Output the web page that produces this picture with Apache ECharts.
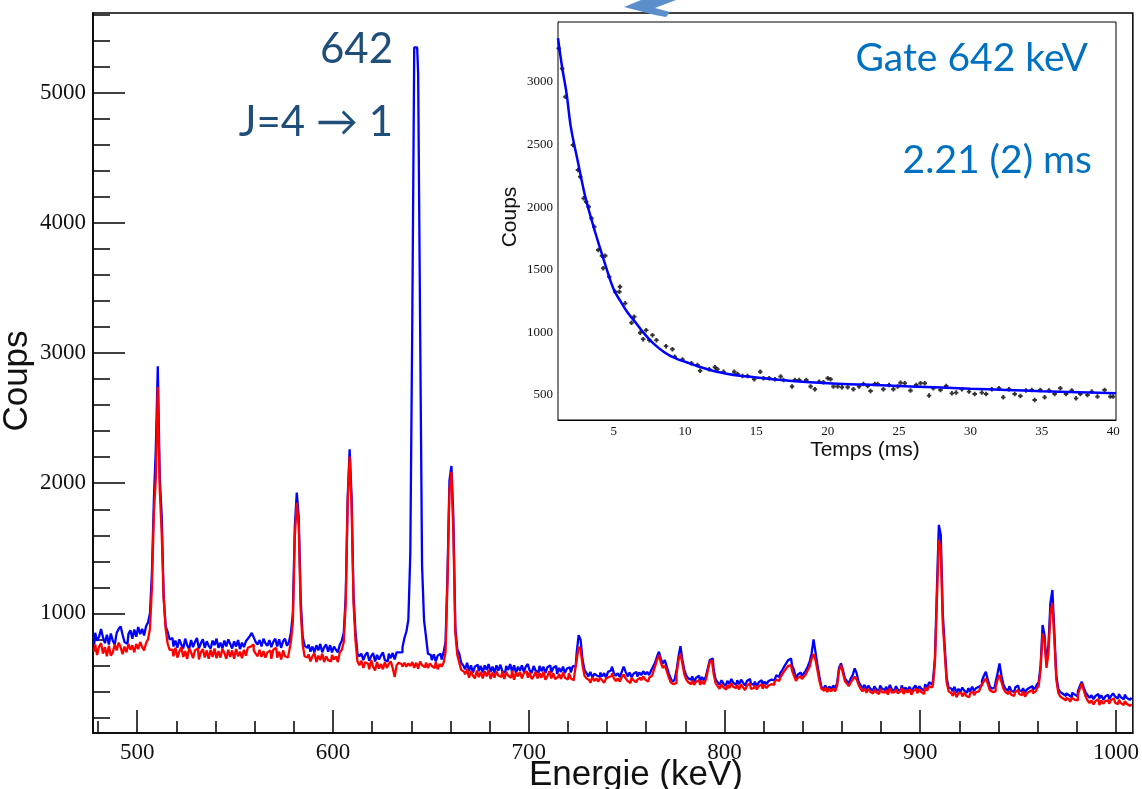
<!DOCTYPE html>
<html>
<head>
<meta charset="utf-8">
<title>Spectre gamma - Gate 642 keV</title>
<script src="https://cdn.jsdelivr.net/npm/echarts@6/dist/echarts.min.js"></script>
<style>
  html, body { margin: 0; padding: 0; background: #fff; }
  #chart { width: 1142px; height: 789px; }
</style>
</head>
<body>
<div id="chart"></div>
<script>
// ---- Energy spectrum: 1 keV bins, first bin centred on 478 keV ----
const binStart = 478;
const binWidth = 1;

// Spectrum in coincidence with the 642 keV gate (blue)
const countsGate = [
  760, 850, 790, 820, 880, 815, 770, 835, 760, 845,      // 478
  790, 760, 850, 880, 900, 835, 780, 765, 840, 870,      // 488
  805, 875, 820, 895, 840, 880, 830, 900, 930, 1000,     // 498
  1310, 1870, 2270, 2900, 2040, 1750, 1130, 900, 860, 800, // 508
  810, 745, 790, 735, 800, 760, 730, 805, 755, 725,      // 518
  795, 740, 780, 810, 730, 770, 800, 735, 785, 750,      // 528
  730, 790, 755, 805, 735, 775, 730, 790, 745, 800,      // 538
  765, 730, 785, 745, 795, 725, 775, 740, 785, 805,      // 548
  825, 850, 815, 780, 760, 795, 745, 805, 770, 750,      // 558
  795, 740, 780, 805, 745, 800, 735, 785, 805, 750,      // 568
  780, 850, 1000, 1667, 1928, 1744, 1103, 821, 750, 735, // 578
  760, 705, 745, 700, 755, 715, 765, 700, 740, 760,      // 588
  705, 755, 700, 745, 720, 700, 760, 790, 850, 1128,     // 598
  1884, 2261, 1897, 1128, 856, 690, 670, 690, 640, 680,  // 608
  700, 635, 670, 695, 630, 680, 645, 675, 700, 640,      // 618
  630, 690, 655, 695, 645, 700, 700, 700, 740, 810,      // 628
  860, 950, 1460, 3230, 5350, 5350, 5150, 3230, 1370, 950, // 638
  820, 690, 680, 640, 685, 630, 675, 690, 645, 700,      // 648
  780, 1300, 2022, 2133, 1733, 886, 725, 690, 620, 600,  // 658
  570, 620, 555, 600, 545, 590, 605, 555, 595, 545,      // 668
  600, 565, 610, 550, 590, 540, 600, 560, 605, 555,      // 678
  545, 595, 565, 610, 550, 600, 540, 590, 560, 600,      // 688
  550, 590, 610, 560, 540, 595, 560, 545, 595, 555,      // 698
  590, 540, 585, 600, 545, 580, 595, 535, 580, 550,      // 708
  590, 540, 575, 585, 545, 595, 590, 700, 833, 795,      // 718
  641, 564, 540, 515, 550, 505, 535, 520, 510, 545,      // 728
  515, 540, 505, 550, 560, 590, 540, 520, 540, 510,      // 738
  550, 590, 550, 515, 545, 510, 535, 550, 515, 545,      // 748
  525, 555, 530, 550, 525, 560, 590, 620, 666, 705,      // 758
  650, 615, 640, 590, 540, 500, 474, 490, 560, 666,      // 768
  748, 641, 564, 520, 500, 490, 515, 475, 505, 520,      // 778
  480, 510, 485, 515, 580, 641, 653, 564, 490, 470,      // 788
  450, 485, 460, 440, 480, 455, 495, 465, 450, 485,      // 798
  455, 490, 465, 445, 480, 495, 460, 450, 475, 440,      // 808
  470, 485, 450, 475, 455, 480, 490, 485, 500, 525,      // 818
  510, 540, 564, 590, 615, 640, 653, 600, 564, 500,      // 828
  530, 545, 520, 538, 560, 590, 628, 692, 800, 700,      // 838
  602, 513, 436, 420, 445, 410, 435, 420, 445, 425,      // 848
  462, 580, 615, 564, 500, 480, 462, 500, 525, 577,      // 858
  540, 474, 449, 425, 450, 415, 445, 420, 405, 440,      // 868
  415, 405, 445, 420, 410, 435, 405, 450, 415, 405,      // 878
  440, 415, 400, 445, 410, 430, 405, 435, 400, 425,      // 888
  445, 410, 440, 420, 405, 455, 425, 470, 455, 480,      // 898
  653, 1180, 1680, 1600, 1000, 744, 500, 430, 420, 400,  // 908
  435, 390, 420, 395, 430, 405, 390, 425, 400, 435,      // 918
  405, 425, 435, 450, 480, 520, 551, 490, 440, 420,      // 928
  430, 470, 540, 615, 520, 450, 420, 405, 440, 405,      // 938
  395, 430, 445, 410, 400, 425, 390, 415, 430, 440,      // 948
  415, 430, 450, 470, 602, 910, 830, 602, 760, 1080,     // 958
  1179, 859, 525, 420, 395, 380, 365, 385, 370, 355,     // 968
  390, 375, 360, 400, 440, 474, 430, 390, 370, 350,      // 978
  370, 340, 365, 380, 345, 370, 335, 360, 375, 340,      // 988
  365, 385, 360, 345, 380, 355, 340, 375, 350, 335,      // 998
  350                                                    // 1008
];

// Reference spectrum (red)
const countsRef = [
  705, 760, 680, 745, 770, 690, 740, 670, 750, 675,      // 478
  700, 760, 715, 775, 740, 685, 745, 700, 765, 720,      // 488
  755, 700, 765, 725, 780, 740, 715, 770, 800, 880,      // 498
  1200, 1770, 2040, 2740, 1950, 1615, 1115, 885, 770, 720, // 508
  720, 670, 735, 660, 705, 740, 665, 710, 650, 730,      // 518
  700, 655, 715, 730, 645, 700, 725, 660, 715, 650,      // 528
  720, 665, 730, 655, 710, 660, 725, 695, 650, 720,      // 538
  665, 715, 650, 725, 670, 705, 655, 720, 675, 735,      // 548
  745, 760, 715, 690, 670, 720, 665, 710, 660, 700,      // 558
  715, 650, 720, 735, 660, 705, 645, 715, 670, 660,      // 568
  700, 780, 930, 1590, 1850, 1667, 1026, 760, 670, 660,  // 578
  685, 630, 670, 695, 625, 675, 640, 690, 625, 670,      // 588
  640, 630, 680, 645, 670, 625, 700, 720, 780, 1077,     // 598
  1859, 2205, 1833, 1077, 790, 630, 600, 635, 580, 625,  // 608
  610, 570, 640, 590, 560, 625, 575, 610, 570, 625,      // 618
  580, 610, 630, 580, 510, 600, 620, 610, 590, 620,      // 628
  590, 615, 595, 625, 580, 620, 575, 630, 600, 585,      // 638
  620, 580, 615, 595, 580, 625, 570, 610, 590, 620,      // 648
  700, 1250, 1950, 2087, 1606, 850, 680, 620, 565, 550,  // 658
  530, 570, 505, 555, 520, 500, 560, 510, 550, 500,      // 668
  555, 515, 565, 495, 545, 505, 555, 520, 510, 555,      // 678
  495, 550, 520, 505, 560, 490, 545, 515, 550, 500,      // 688
  540, 555, 505, 545, 495, 515, 550, 500, 540, 505,      // 698
  550, 490, 515, 555, 500, 540, 495, 510, 535, 495,      // 708
  545, 505, 490, 540, 500, 485, 545, 640, 743, 718,      // 718
  600, 520, 500, 485, 465, 510, 480, 500, 475, 505,      // 728
  485, 465, 500, 510, 520, 540, 500, 480, 500, 475,      // 738
  510, 530, 500, 480, 465, 505, 485, 470, 490, 505,      // 748
  485, 515, 490, 475, 505, 520, 545, 590, 640, 680,      // 758
  620, 580, 600, 555, 510, 470, 455, 465, 530, 640,      // 768
  692, 610, 530, 490, 470, 455, 485, 450, 475, 485,      // 778
  450, 480, 455, 490, 560, 625, 641, 530, 460, 440,      // 788
  420, 455, 430, 415, 450, 425, 460, 435, 425, 450,      // 798
  415, 455, 430, 410, 445, 460, 420, 425, 445, 415,      // 808
  440, 455, 420, 450, 425, 445, 455, 450, 470, 490,      // 818
  480, 505, 530, 555, 575, 595, 602, 560, 520, 480,      // 828
  505, 515, 495, 513, 530, 560, 590, 650, 687, 640,      // 838
  560, 480, 420, 405, 430, 395, 420, 400, 420, 400,      // 848
  440, 560, 602, 540, 480, 460, 440, 470, 490, 513,      // 858
  490, 450, 420, 400, 425, 390, 420, 395, 385, 415,      // 868
  395, 380, 420, 395, 390, 410, 375, 425, 390, 395,      // 878
  415, 385, 400, 425, 380, 410, 390, 415, 375, 405,      // 888
  420, 385, 415, 395, 380, 430, 405, 440, 430, 450,      // 898
  620, 1100, 1565, 1480, 924, 700, 470, 400, 385, 365,   // 908
  400, 355, 385, 390, 360, 390, 365, 355, 385, 400,      // 918
  370, 395, 400, 420, 450, 480, 500, 460, 410, 395,      // 928
  400, 430, 490, 526, 470, 420, 395, 380, 405, 375,      // 938
  365, 395, 410, 380, 370, 400, 360, 385, 400, 410,      // 948
  385, 400, 420, 440, 570, 846, 780, 580, 700, 1000,     // 958
  1077, 800, 490, 390, 360, 345, 330, 350, 340, 320,     // 968
  350, 335, 330, 370, 420, 462, 410, 360, 330, 310,      // 978
  330, 300, 325, 340, 295, 330, 305, 325, 330, 305,      // 988
  335, 345, 315, 300, 335, 310, 295, 325, 305, 290,      // 998
  300                                                    // 1008
];

// Main axes ticks
const energyMajorTicks = [500, 600, 700, 800, 900, 1000];
const energyMinorTicks = [480, 520, 540, 560, 580, 620, 640, 660, 680, 720, 740, 760, 780,
  820, 840, 860, 880, 920, 940, 960, 980];
const countMajorTicks = [1000, 2000, 3000, 4000, 5000];
const countMinorTicks = [200, 400, 600, 800, 1200, 1400, 1600, 1800, 2200, 2400, 2600, 2800,
  3200, 3400, 3600, 3800, 4200, 4400, 4600, 4800, 5200, 5400, 5600];

// ---- Inset: time distribution gated on 642 keV ----
const decayTime = [1.15, 1.39, 1.62, 2.15, 2.5, 2.66, 2.9, 3.07, 3.25, 3.45, 3.64, 3.92, 4.18, 4.27,
  4.41, 4.69, 5.11, 5.4, 5.44, 5.81, 6.25, 6.44, 6.86, 7.07, 7.28, 7.5, 7.72, 8.0, 8.67, 9.12,
  9.28, 9.82, 10.45, 10.87, 11.06, 11.7, 12.1, 12.27, 12.7, 13.45, 13.68, 14.03, 14.38, 14.85,
  15.27, 15.5, 15.9, 16.3, 16.7, 16.9, 17.5, 17.7, 18.0, 18.5, 18.8, 19.1, 19.4, 19.7, 20.0,
  20.2, 20.4, 20.7, 21.0, 21.4, 21.8, 22.2, 22.5, 22.8, 23.0, 23.3, 23.5, 23.9, 24.3, 24.6,
  24.9, 25.1, 25.4, 25.8, 26.2, 26.5, 26.8, 27.1, 27.4, 27.9, 28.3, 28.7, 29.0, 29.4, 29.9,
  30.3, 30.8, 31.1, 31.5, 32.0, 32.3, 32.7, 33.1, 33.5, 33.9, 34.3, 34.5, 34.9, 35.2, 35.5,
  35.9, 36.3, 36.7, 37.1, 37.4, 37.7, 38.2, 38.5, 38.9, 39.4, 39.8, 40.0];
const decayCounts = [3269, 3109, 2883, 2497, 2297, 2244, 2071, 2044, 2004, 1911, 1844, 1658, 1613, 1512,
  1613, 1445, 1325, 1325, 1365, 1232, 1077, 1125, 997, 946, 1018, 938, 978, 938, 890, 866,
  806, 784, 753, 740, 694, 705, 721, 705, 686, 686, 668, 652, 652, 625,
  686, 633, 633, 625, 647, 620, 567, 620, 620, 620, 567, 545, 606, 601, 633,
  625, 567, 567, 561, 561, 545, 567, 588, 572, 532, 588, 588, 545, 580, 545,
  567, 598, 593, 535, 580, 593, 593, 495, 553, 540, 572, 513, 519, 545, 527,
  508, 519, 508, 545, 553, 481, 545, 508, 492, 535, 540, 460, 540, 481, 535,
  508, 553, 508, 535, 473, 508, 500, 527, 487, 540, 487, 487];

// Fitted decay curve (2.21 ms)
const fitTime = [1.1, 1.4, 1.7, 2.0, 2.5, 3.0, 3.5, 4.0, 4.5, 5.0, 5.5, 6.0, 6.5, 7.0, 7.5, 8.0,
  8.5, 9.0, 9.5, 10, 11, 12, 13, 14, 15, 17.5, 20, 22.5, 25, 27.5, 30, 32.5, 35, 37.5, 40.2];
const fitCounts = [3350, 3110, 2910, 2640, 2360, 2090, 1880, 1690, 1510, 1345, 1245, 1155, 1085, 1010, 945, 890,
  845, 810, 785, 765, 725, 692, 668, 652, 640, 612, 593, 583, 572, 561, 550, 540, 530, 522, 513];

const timeMajorTicks = [5, 10, 15, 20, 25, 30, 35, 40];
const timeMinorTicks = [2, 3, 4, 6, 7, 8, 9, 11, 12, 13, 14, 16, 17, 18, 19, 21, 22, 23, 24,
  26, 27, 28, 29, 31, 32, 33, 34, 36, 37, 38, 39];
const insetCountMajorTicks = [500, 1000, 1500, 2000, 2500, 3000];
const insetCountMinorTicks = [400, 600, 700, 800, 900, 1100, 1200, 1300, 1400, 1600, 1700, 1800,
  1900, 2100, 2200, 2300, 2400, 2600, 2700, 2800, 2900, 3100, 3200, 3300, 3400];

// ---- Build options ----
const gateData = countsGate.map((v, i) => [binStart + i * binWidth, v]);
const refData = countsRef.map((v, i) => [binStart + i * binWidth, v]);
const decayData = decayTime.map((t, i) => [t, decayCounts[i]]);
const fitData = fitTime.map((t, i) => [t, fitCounts[i]]);

const serif = '"Liberation Serif", "DejaVu Serif", serif';
const sans = '"Liberation Sans", Arial, sans-serif';
const callout = 'Lato, "Open Sans", "DejaVu Sans", sans-serif';
const black = '#000';
// small bold "+" marker for the measured points
const plusMarker = 'path://M2,0H5V2H7V5H5V7H2V5H0V2H2Z';

function valueAxis(opts) {
  return {
    type: 'value',
    gridIndex: opts.grid,
    position: opts.position,
    min: opts.min,
    max: opts.max,
    splitLine: { show: false },
    axisLine: { show: opts.line !== false, onZero: false, lineStyle: { color: black, width: opts.lineWidth || 1.5 } },
    axisTick: {
      show: true, inside: true, length: opts.tickLen,
      customValues: opts.ticks,
      lineStyle: { color: black, width: opts.tickWidth || 1.5 }
    },
    axisLabel: opts.labels
      ? { show: true, customValues: opts.ticks, fontFamily: serif, fontSize: opts.fontSize,
          color: '#111', margin: opts.margin, formatter: (v) => String(v) }
      : { show: false }
  };
}

const option = {
  animation: false,
  backgroundColor: '#fff',
  grid: [
    { left: 93, top: 13, width: 1042, height: 720, show: true, borderColor: black, borderWidth: 1.5,
      backgroundColor: 'transparent' },
    { left: 558, top: 22, width: 558, height: 398, show: true, borderColor: black, borderWidth: 1,
      backgroundColor: '#fff', z: 3 }
  ],
  xAxis: [
    valueAxis({ grid: 0, position: 'bottom', min: 477.4, max: 1008.6, tickLen: 23, ticks: energyMajorTicks,
      labels: true, fontSize: 23, margin: 8 }),
    valueAxis({ grid: 0, position: 'bottom', min: 477.4, max: 1008.6, tickLen: 12, ticks: energyMinorTicks,
      line: false }),
    valueAxis({ grid: 1, position: 'bottom', min: 1.1, max: 40.2, tickLen: 13, ticks: timeMajorTicks,
      labels: true, fontSize: 13, margin: 5, lineWidth: 1, tickWidth: 1 }),
    valueAxis({ grid: 1, position: 'bottom', min: 1.1, max: 40.2, tickLen: 7, ticks: timeMinorTicks,
      line: false, tickWidth: 1 })
  ],
  yAxis: [
    valueAxis({ grid: 0, position: 'left', min: 80, max: 5615, tickLen: 32, ticks: countMajorTicks,
      labels: true, fontSize: 23, margin: 7 }),
    valueAxis({ grid: 0, position: 'left', min: 80, max: 5615, tickLen: 17, ticks: countMinorTicks,
      line: false }),
    valueAxis({ grid: 1, position: 'left', min: 300, max: 3480, tickLen: 16, ticks: insetCountMajorTicks,
      labels: true, fontSize: 13, margin: 5, lineWidth: 1, tickWidth: 1 }),
    valueAxis({ grid: 1, position: 'left', min: 300, max: 3480, tickLen: 8, ticks: insetCountMinorTicks,
      line: false, tickWidth: 1 })
  ],
  series: [
    { name: 'Gate 642 keV', type: 'line', xAxisIndex: 0, yAxisIndex: 0, step: 'middle', data: gateData,
      showSymbol: false, symbol: 'none', lineStyle: { color: '#0000ff', width: 2.3 }, z: 2 },
    { name: 'Référence', type: 'line', xAxisIndex: 0, yAxisIndex: 0, step: 'middle', data: refData,
      showSymbol: false, symbol: 'none', lineStyle: { color: '#ff0000', width: 2.3 }, z: 3 },
    { name: 'Temps', type: 'scatter', xAxisIndex: 2, yAxisIndex: 2, data: decayData,
      symbol: plusMarker, symbolSize: 4.5, itemStyle: { color: '#000' }, z: 4 },
    { name: 'Ajustement', type: 'line', xAxisIndex: 2, yAxisIndex: 2, data: fitData, smooth: 0.4,
      showSymbol: false, symbol: 'none', lineStyle: { color: '#0000ff', width: 2.5 }, z: 5 }
  ],
  graphic: [
    // Arrow head pointing to the inset
    { type: 'polygon', shape: { points: [[624, 7], [641, 0], [676, 0], [655, 8], [670, 12], [666, 17], [655, 15]] },
      style: { fill: '#5a8fcb' }, z: 10 },
    { type: 'text', x: 393, y: 49, z: 10,
      style: { text: '642', fontFamily: callout, fontSize: 42, fill: '#1f4e79', align: 'right', verticalAlign: 'middle' } },
    { type: 'text', x: 393, y: 122, z: 10,
      style: { text: 'J=4 \u2192 1', fontFamily: callout, fontSize: 42, fill: '#1f4e79', align: 'right', verticalAlign: 'middle' } },
    { type: 'text', x: 1088, y: 58, z: 10,
      style: { text: 'Gate 642 keV', fontFamily: callout, fontSize: 39, fill: '#0070c0', align: 'right', verticalAlign: 'middle' } },
    { type: 'text', x: 1092, y: 160, z: 10,
      style: { text: '2.21 (2) ms', fontFamily: callout, fontSize: 39, fill: '#0070c0', align: 'right', verticalAlign: 'middle' } },
    { type: 'text', x: 17, y: 381, rotation: Math.PI / 2, z: 10,
      style: { text: 'Coups', fontFamily: sans, fontSize: 35, fill: '#111', align: 'center', verticalAlign: 'middle' } },
    { type: 'text', x: 636, y: 775, z: 10,
      style: { text: 'Energie (keV)', fontFamily: sans, fontSize: 35, fill: '#111', align: 'center', verticalAlign: 'middle' } },
    { type: 'text', x: 510, y: 217, rotation: Math.PI / 2, z: 10,
      style: { text: 'Coups', fontFamily: sans, fontSize: 21, fill: '#111', align: 'center', verticalAlign: 'middle' } },
    { type: 'text', x: 865, y: 450, z: 10,
      style: { text: 'Temps (ms)', fontFamily: sans, fontSize: 21, fill: '#111', align: 'center', verticalAlign: 'middle' } }
  ]
};

const chart = echarts.init(document.getElementById('chart'), null, { renderer: 'canvas' });
chart.setOption(option);
</script>
</body>
</html>
